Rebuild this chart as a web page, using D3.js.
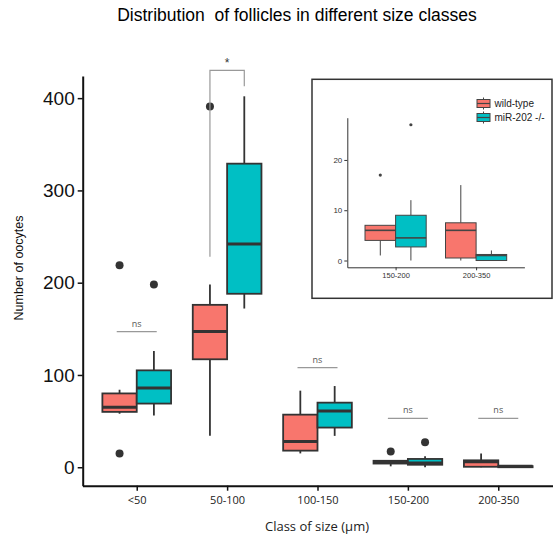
<!DOCTYPE html>
<html>
<head>
<meta charset="utf-8">
<script src="https://cdn.jsdelivr.net/npm/d3@7"></script>
<style>
  body { margin: 0; background: #fff; }
  svg { display: block; }
</style>
</head>
<body>
<div id="frame"></div>
<script>
// data
let classes = ['<50', '50-100', '100-150', '150-200', '200-350'];
let groups = ['wild-type', 'miR-202 -/-'];
let colors = ['#F8766D', '#00BFC4'];

// [lower whisker, q1, median, q3, upper whisker]
let wtStats = [[58, 60, 65, 80, 84], [34, 117, 147, 176, 198], [15, 18, 28, 57, 83], [1, 4, 6, 7, 7], [0, 0.5, 6, 7.5, 15]];
let koStats = [[56, 69, 86, 105, 126], [172, 188, 242, 329, 402], [34, 43, 61, 70, 88], [0, 2.7, 4.5, 9, 12], [0, 0, 1, 1.2, 2]];
let wtOutliers = [[15, 219], [391], [], [17], []];
let koOutliers = [[198], [], [], [27], []];

let yTicks = [0, 100, 200, 300, 400];
let insetClasses = ['150-200', '200-350'];
let insetTicks = [0, 10, 20];

// significance labels
let nsClasses = ['<50', '100-150', '150-200', '200-350'];
let nsHeights = [147, 108, 53, 53];
let starClass = '50-100';
let starBracket = [228, 430, 413]; // left end, top, right end

let W = 555, H = 535;

let svg = d3.select('#frame')
    .append('svg')
    .attr('width', W)
    .attr('height', H)
    .style('font-family', 'Liberation Sans, Arial, sans-serif');

// title (keeps the double space)
svg.append('text')
    .attr('x', 297)
    .attr('y', 21)
    .attr('text-anchor', 'middle')
    .style('font-size', '17.5px')
    .style('white-space', 'pre')
    .attr('xml:space', 'preserve')
    .text('Distribution  of follicles in different size classes');

//main scales
let x = d3.scaleLinear().domain([0.4, 5.6]).range([82.5, 552.5]);
let y = d3.scaleLinear().domain([-20, 424]).range([485.7, 76]);

let half = 0.19; // dodge offset
let bw = 0.38;   // box width in category units

function drawBoxes(g, xs, ys, idx, opt) {
    [wtStats, koStats].forEach((stats, gi) => {
        let outl = gi === 0 ? wtOutliers : koOutliers;
        idx.forEach((ci, k) => {
            let s = stats[ci];
            let cx = xs(k + 1 + (gi === 0 ? -half : half));
            let x0 = xs(k + 1 + (gi === 0 ? -half : half) - bw / 2);
            let x1 = xs(k + 1 + (gi === 0 ? -half : half) + bw / 2);
            // whiskers
            g.append('line')
                .attr('x1', cx).attr('x2', cx)
                .attr('y1', ys(s[0])).attr('y2', ys(s[1]))
                .attr('stroke', opt.line).attr('stroke-width', opt.whisker);
            g.append('line')
                .attr('x1', cx).attr('x2', cx)
                .attr('y1', ys(s[3])).attr('y2', ys(s[4]))
                .attr('stroke', opt.line).attr('stroke-width', opt.whisker);
            // box
            g.append('rect')
                .attr('x', x0)
                .attr('y', ys(s[3]))
                .attr('width', x1 - x0)
                .attr('height', Math.max(0, ys(s[1]) - ys(s[3])))
                .attr('fill', colors[gi])
                .attr('stroke', opt.line)
                .attr('stroke-width', opt.box);
            // median
            g.append('line')
                .attr('x1', x0).attr('x2', x1)
                .attr('y1', ys(s[2])).attr('y2', ys(s[2]))
                .attr('stroke', opt.line).attr('stroke-width', opt.median);
            // outliers
            outl[ci].forEach(v => {
                g.append('circle')
                    .attr('cx', cx).attr('cy', ys(v))
                    .attr('r', opt.dot)
                    .attr('fill', opt.line);
            });
        });
    });
}

let main = svg.append('g');

drawBoxes(main, x, y, [0, 1, 2, 3, 4], { line: '#333', whisker: 1.8, box: 1.8, median: 3, dot: 4 });

// axes
let yAxis = main.append('g')
    .attr('transform', 'translate(82.7,0)')
    .call(d3.axisLeft(y).tickValues(yTicks).tickSize(5).tickSizeOuter(0).tickPadding(3));
yAxis.select('.domain').attr('stroke', '#111').attr('stroke-width', 2);
yAxis.selectAll('.tick line').attr('stroke', '#111').attr('stroke-width', 1.5);
yAxis.selectAll('.tick text')
    .style('font-family', 'Liberation Sans, Arial, sans-serif')
    .style('font-size', '19px')
    .attr('fill', '#111');

let xAxis = main.append('g')
    .attr('transform', 'translate(0,485.7)')
    .call(d3.axisBottom(x).tickValues([1, 2, 3, 4, 5]).tickFormat((d, i) => classes[i]).tickSize(5).tickSizeOuter(0).tickPadding(6));
xAxis.select('.domain').attr('stroke', '#111').attr('stroke-width', 2);
xAxis.selectAll('.tick line').attr('stroke', '#111').attr('stroke-width', 1.5);
xAxis.selectAll('.tick text')
    .style('font-family', 'Open Sans, sans-serif')
    .style('font-size', '11px')
    .attr('fill', '#222');

// axis titles
main.append('text')
    .attr('x', 317)
    .attr('y', 531)
    .attr('text-anchor', 'middle')
    .style('font-family', 'Open Sans, sans-serif')
    .style('font-size', '13px')
    .attr('fill', '#222')
    .text('Class of size (\u03bcm)');

main.append('text')
    .attr('transform', 'translate(23,268) rotate(-90)')
    .attr('text-anchor', 'middle')
    .style('font-size', '12.5px')
    .attr('fill', '#111')
    .text('Number of oocytes');

// ns annotations
nsClasses.forEach((c, i) => {
    let cx = x(classes.indexOf(c) + 1);
    main.append('line')
        .attr('x1', cx - 20).attr('x2', cx + 20)
        .attr('y1', y(nsHeights[i])).attr('y2', y(nsHeights[i]))
        .attr('stroke', '#999').attr('stroke-width', 1.2);
    main.append('text')
        .attr('x', cx)
        .attr('y', y(nsHeights[i]) - 5)
        .attr('text-anchor', 'middle')
        .style('font-family', 'Open Sans, sans-serif')
        .style('font-size', '9px')
        .attr('fill', '#555')
        .text('ns');
});

// bracket with star
let si = classes.indexOf(starClass) + 1;
let bl = x(si - half), br = x(si + half);
main.append('path')
    .attr('d', `M${bl},${y(starBracket[0])}V${y(starBracket[1])}H${br}V${y(starBracket[2])}`)
    .attr('fill', 'none')
    .attr('stroke', '#999')
    .attr('stroke-width', 1.2);
main.append('text')
    .attr('x', (bl + br) / 2)
    .attr('y', y(starBracket[1]) - 3)
    .attr('text-anchor', 'middle')
    .style('font-size', '12px')
    .attr('fill', '#333')
    .text('*');

// inset panel
let inset = svg.append('g');
inset.append('rect')
    .attr('x', 312)
    .attr('y', 79.3)
    .attr('width', 240)
    .attr('height', 219)
    .attr('fill', '#fff')
    .attr('stroke', '#333')
    .attr('stroke-width', 1.5);

let xi = d3.scaleLinear().domain([0.4, 2.6]).range([347.3, 524.4]);
let yi = d3.scaleLinear().domain([-1.35, 28.4]).range([267.3, 117.7]);

drawBoxes(inset, xi, yi, [3, 4], { line: '#444', whisker: 1, box: 1, median: 1.6, dot: 1.6 });

let yiAxis = inset.append('g')
    .attr('transform', 'translate(347.3,0)')
    .call(d3.axisLeft(yi).tickValues(insetTicks).tickSize(3).tickSizeOuter(0).tickPadding(2));
yiAxis.select('.domain').attr('stroke', '#333');
yiAxis.selectAll('.tick line').attr('stroke', '#333');
yiAxis.selectAll('.tick text')
    .style('font-family', 'Liberation Sans, Arial, sans-serif')
    .style('font-size', '8px')
    .attr('fill', '#333');

let xiAxis = inset.append('g')
    .attr('transform', 'translate(0,267.3)')
    .call(d3.axisBottom(xi).tickValues([1, 2]).tickFormat((d, i) => insetClasses[i]).tickSize(3).tickSizeOuter(0).tickPadding(2));
xiAxis.select('.domain').attr('stroke', '#333');
xiAxis.selectAll('.tick line').attr('stroke', '#333');
xiAxis.selectAll('.tick text')
    .style('font-family', 'Liberation Sans, Arial, sans-serif')
    .style('font-size', '7.5px')
    .attr('fill', '#333');

// legend
groups.forEach((gname, i) => {
    let ly = 99.5 + i * 14;
    let lg = inset.append('g');
    lg.append('line')
        .attr('x1', 483.5).attr('x2', 483.5)
        .attr('y1', ly - 2).attr('y2', ly + 10)
        .attr('stroke', '#444').attr('stroke-width', 1);
    lg.append('rect')
        .attr('x', 477).attr('y', ly)
        .attr('width', 13).attr('height', 8)
        .attr('fill', colors[i])
        .attr('stroke', '#444').attr('stroke-width', 1);
    lg.append('line')
        .attr('x1', 477).attr('x2', 490)
        .attr('y1', ly + 4).attr('y2', ly + 4)
        .attr('stroke', '#444').attr('stroke-width', 1.2);
    lg.append('text')
        .attr('x', 494.5)
        .attr('y', ly + 7.5)
        .style('font-size', '10px')
        .attr('fill', '#222')
        .text(gname);
});
</script>
</body>
</html>
